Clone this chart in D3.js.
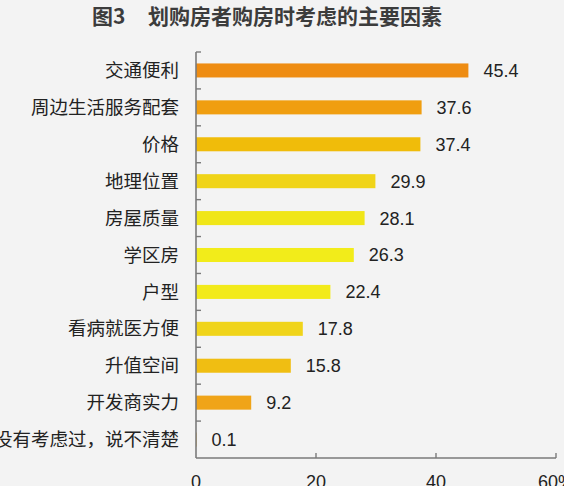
<!DOCTYPE html>
<html><head><meta charset="utf-8">
<script src="https://cdn.jsdelivr.net/npm/d3@7"></script>
<style>
html,body{margin:0;padding:0;background:#f3f3f3;}
svg{display:block;}
</style></head>
<body>
<script>
const titleNum = "图3";
const title = "划购房者购房时考虑的主要因素";
const categories = ["交通便利","周边生活服务配套","价格","地理位置","房屋质量","学区房","户型","看病就医方便","升值空间","开发商实力","没有考虑过，说不清楚"];
const values = [45.4,37.6,37.4,29.9,28.1,26.3,22.4,17.8,15.8,9.2,0.1];
const colors = ["#ee8c12","#f09e10","#f0bc0a","#f0d418","#f0e618","#f2ec1a","#f2ea1a","#f0d41a","#f0be12","#f0a418","#f0a418"];
const xTicks = [0,20,40,60];
const xTickLabels = ["0","20","40","60%"];

const W = 564, H = 486;
const svg = d3.select("body").append("svg").attr("width",W).attr("height",H);
svg.append("rect").attr("width",W).attr("height",H).attr("fill","#f3f3f3");

const x = d3.scaleLinear().domain([0,60]).range([196,556]);
const y = d3.scaleBand().domain(categories).range([52,458]).paddingInner(0.62).paddingOuter(0.31);
const band = d3.scaleBand().domain(categories).range([52,458]);

const latin = "'Liberation Sans', Arial, 'Noto Sans CJK SC', sans-serif";
const cjk = "'Noto Sans CJK SC', 'Liberation Sans', sans-serif";

svg.append("text").attr("x",92).attr("y",24)
  .attr("font-family",cjk).attr("font-size",21).attr("font-weight","bold").attr("fill","#3c3c3c")
  .text(titleNum);
svg.append("text").attr("x",148).attr("y",24)
  .attr("font-family",cjk).attr("font-size",21).attr("font-weight","bold").attr("fill","#3c3c3c")
  .text(title);

// bars
svg.selectAll("rect.bar").data(values).join("rect").attr("class","bar")
  .attr("x",x(0)).attr("y",(d,i)=>y(categories[i]))
  .attr("width",d=>x(d)-x(0)).attr("height",y.bandwidth())
  .attr("fill",(d,i)=>colors[i]);

// value labels
svg.selectAll("text.val").data(values).join("text").attr("class","val")
  .attr("x",d=>x(d)+15).attr("y",(d,i)=>y(categories[i])+y.bandwidth()/2)
  .attr("dy","0.36em").attr("font-family",latin).attr("font-size",18).attr("fill","#222")
  .text(d=>d.toFixed(1));

// category labels
svg.selectAll("text.cat").data(categories).join("text").attr("class","cat")
  .attr("x",179).attr("y",d=>band(d)+band.bandwidth()/2)
  .attr("dy","0.36em").attr("text-anchor","end")
  .attr("font-family",cjk).attr("font-size",18.5).attr("fill","#222")
  .text(d=>d);

// axes
const axisColor = "#7a7a7a";
svg.append("line").attr("x1",x(0)).attr("x2",x(0)).attr("y1",52).attr("y2",458)
  .attr("stroke",axisColor).attr("stroke-width",1.6);
svg.selectAll("line.yt").data(categories).join("line").attr("class","yt")
  .attr("x1",x(0)).attr("x2",x(0)+5)
  .attr("y1",d=>band(d)).attr("y2",d=>band(d))
  .attr("stroke",axisColor).attr("stroke-width",1.4);
svg.append("line").attr("x1",x(0)).attr("x2",x(60)).attr("y1",458).attr("y2",458)
  .attr("stroke",axisColor).attr("stroke-width",1.6);
svg.selectAll("line.xt").data(xTicks.slice(1)).join("line").attr("class","xt")
  .attr("x1",d=>x(d)).attr("x2",d=>x(d)).attr("y1",458).attr("y2",453)
  .attr("stroke",axisColor).attr("stroke-width",1.4);
svg.selectAll("text.xl").data(xTicks).join("text").attr("class","xl")
  .attr("x",d=>x(d)).attr("y",488).attr("text-anchor","middle")
  .attr("font-family",latin).attr("font-size",18).attr("fill","#222")
  .text((d,i)=>xTickLabels[i]);
</script>
</body></html>
